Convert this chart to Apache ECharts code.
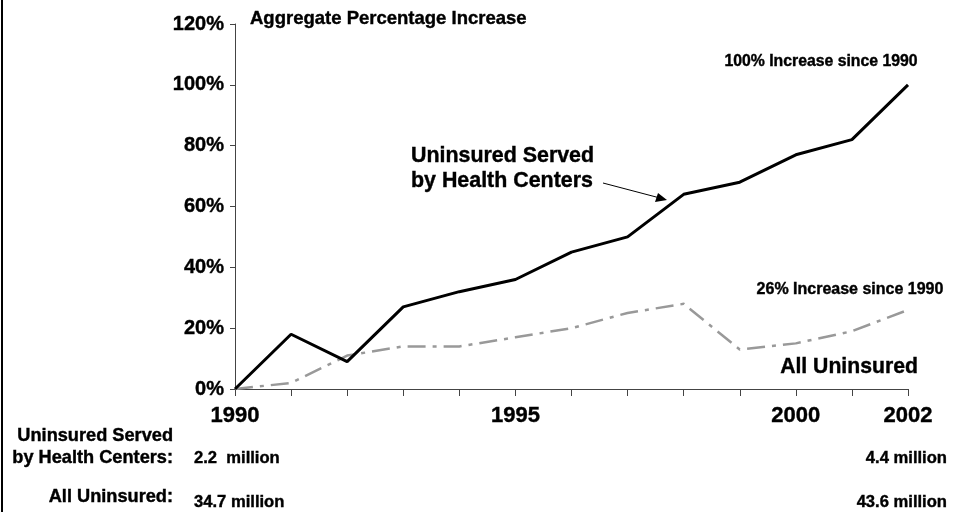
<!DOCTYPE html>
<html>
<head>
<meta charset="utf-8">
<script src="https://cdn.jsdelivr.net/npm/echarts@6/dist/echarts.min.js"></script>
<style>
  html, body { margin: 0; padding: 0; background: #fff; }
  #chart { width: 955px; height: 512px; }
</style>
</head>
<body>
<div id="chart"></div>
<script>
const years = ['1990', '1991', '1992', '1993', '1994', '1995', '1996', '1997', '1998', '1999', '2000', '2001', '2002'];
const labeledYears = ['1990', '1995', '2000', '2002'];
const healthCenters = [0, 18, 9, 27, 32, 36, 45, 50, 64, 68, 77, 82, 100];
const allUninsured = [0, 2, 11, 14, 14, 17, 20, 25, 28, 13, 15, 19, 26];
const rowLabels = [['Uninsured Served', 'by Health Centers:'], ['All Uninsured:']];
const startValues = ['2.2  million', '34.7 million'];
const endValues = ['4.4 million', '43.6 million'];

const chart = echarts.init(document.getElementById('chart'));
const FONT = '"Liberation Sans", Arial, sans-serif';

function txt(text, x, y, size, align) {
  return {
    type: 'text',
    style: {
      text: text,
      x: x,
      y: y,
      textAlign: align || 'left',
      textVerticalAlign: 'middle',
      font: 'bold ' + size + 'px ' + FONT,
      fill: '#000',
      stroke: '#000',
      lineWidth: 0.4,
    },
  };
}

const option = {
  animation: false,
  grid: { left: 235, right: 47, top: 24, bottom: 123 },
  xAxis: {
    type: 'category',
    data: years,
    boundaryGap: false,
    axisLine: { lineStyle: { color: '#444', width: 1 } },
    axisTick: { interval: 0, length: 7, lineStyle: { color: '#444' } },
    axisLabel: {
      interval: (i, v) => labeledYears.includes(v),
      margin: 16,
      color: '#000',
      fontSize: 22,
      fontWeight: 'bold',
      fontFamily: FONT,
      textBorderColor: '#000',
      textBorderWidth: 0.4,
    },
    splitLine: { show: false },
  },
  yAxis: {
    type: 'value',
    min: 0,
    max: 120,
    interval: 20,
    axisLine: { show: true, lineStyle: { color: '#444', width: 1 } },
    axisTick: { show: true, length: 5, lineStyle: { color: '#444' } },
    axisLabel: {
      formatter: '{value}%',
      margin: 11,
      color: '#000',
      fontSize: 20,
      fontWeight: 'bold',
      fontFamily: FONT,
      textBorderColor: '#000',
      textBorderWidth: 0.4,
    },
    splitLine: { show: false },
  },
  series: [
    {
      name: 'All Uninsured',
      type: 'line',
      data: allUninsured,
      showSymbol: false,
      lineStyle: { color: '#999', width: 2.5, type: [18, 7, 4, 7] },
      z: 2,
    },
    {
      name: 'Uninsured Served by Health Centers',
      type: 'line',
      data: healthCenters,
      showSymbol: false,
      lineStyle: { color: '#000', width: 3 },
      z: 3,
    },
  ],
  graphic: [
    { type: 'rect', shape: { x: 1, y: 0, width: 2, height: 512 }, style: { fill: '#000' } },
    txt('Aggregate Percentage Increase', 250, 19, 18.5),
    txt('100% Increase since 1990', 821, 62, 15.8, 'center'),
    txt('Uninsured Served', 411, 156, 21.4),
    txt('by Health Centers', 411, 181, 21.4),
    { type: 'line', shape: { x1: 603, y1: 183, x2: 660, y2: 198 }, style: { stroke: '#000', lineWidth: 1 } },
    { type: 'polygon', shape: { points: [[667, 200], [655, 202], [658, 193]] }, style: { fill: '#000' } },
    txt('26% Increase since 1990', 850, 290, 16, 'center'),
    txt('All Uninsured', 849, 367, 21.2, 'center'),
    txt(rowLabels[0][0], 173, 436, 18.2, 'right'),
    txt(rowLabels[0][1], 173, 458, 18.2, 'right'),
    txt(rowLabels[1][0], 173, 497, 18.2, 'right'),
    txt(startValues[0], 194, 458, 16.6),
    txt(startValues[1], 194, 502, 16.6),
    txt(endValues[0], 947, 458, 16.6, 'right'),
    txt(endValues[1], 947, 502, 16.6, 'right'),
  ],
};

chart.setOption(option);
</script>
</body>
</html>
